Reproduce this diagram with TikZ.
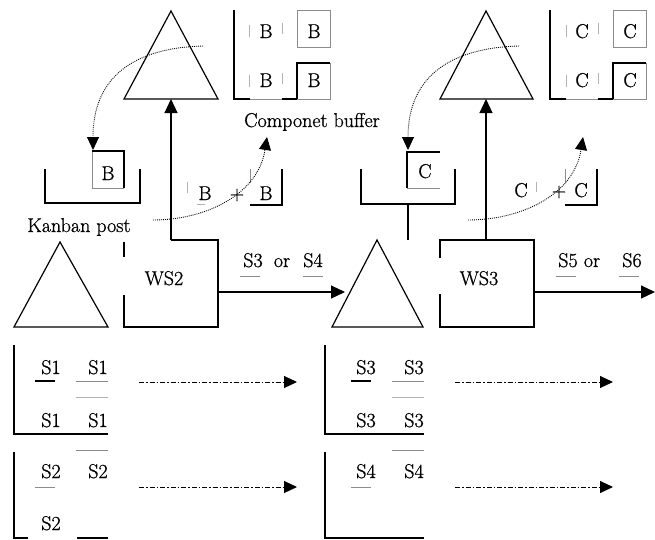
\documentclass[tikz,border=0pt]{standalone}
\usepackage{fontspec}
\newfontfamily\lblfont{Latin Modern Roman}[FakeBold=0.9]
\usetikzlibrary{arrows.meta}
\begin{document}
\begin{tikzpicture}[x=1pt,y=-1pt,
  line width=1.1pt,
  lbl/.style={font=\lblfont\fontsize{20}{24}\selectfont, inner sep=0pt, anchor=base},
  tri/.style={draw, line width=1.2pt, line join=miter},
  frame/.style={line width=1.1pt},
  faint/.style={draw=black!45, line width=0.8pt},
  tick/.style={draw=black!30, line width=0.8pt},
  flow/.style={-{Triangle[length=14pt,width=13pt]}, line width=1.1pt},
  kanban/.style={-{Triangle[length=13pt,width=12pt]}, line width=0.9pt,
    dash pattern=on 0.9pt off 1.1pt},
  info/.style={-{Triangle[length=13pt,width=12pt]}, line width=1pt,
    dash pattern=on 5pt off 2pt on 1.5pt off 2pt},
]
\useasboundingbox (0,0) rectangle (655,539);

% ---------- stock triangles ----------
\coordinate (bufB-top) at (171,11);  \coordinate (bufB-l) at (124,99);  \coordinate (bufB-r) at (218,99);
\coordinate (bufB-in) at (171,99);
\coordinate (bufC-top) at (486,11);  \coordinate (bufC-l) at (440,99);  \coordinate (bufC-r) at (533,99);
\coordinate (bufC-in) at (486,99);
\coordinate (st1-top) at (60,242);   \coordinate (st1-l) at (14,327);   \coordinate (st1-r) at (108,327);
\coordinate (st2-top) at (377,240);  \coordinate (st2-l) at (332,327);  \coordinate (st2-r) at (423,327);
\coordinate (st2-in) at (345,292);
\foreach \t in {bufB,bufC,st1,st2}
  \draw[tri] (\t-top) -- (\t-r) -- (\t-l) -- cycle;

% ---------- work stations ----------
\draw[frame] (124,242) -- (124,257);
\draw[frame] (124,295) -- (124,327) -- (218,327) -- (218,240) -- (171,240);
\node[lbl] (ws2) at (164,285) {WS2};
\coordinate (ws2-top) at (171,240);
\coordinate (ws2-out) at (218,292);

\draw[frame] (440,258) -- (440,240) -- (534,240) -- (534,327) -- (440,327) -- (440,294);
\node[lbl] (ws3) at (479,285) {WS3};
\coordinate (ws3-top) at (486,240);
\coordinate (ws3-out) at (534,292);
\coordinate (out) at (655,292);

\draw[flow] (ws2-top) -- (bufB-in);
\draw[flow] (ws3-top) -- (bufC-in);
\draw[flow] (ws2-out) -- (st2-in);
\draw[flow] (ws3-out) -- (out);

% ---------- output labels ----------
\node[lbl] (s3o) at (253,267) {S3};
\node[lbl] (or1) at (282,267) {or};
\node[lbl] (s4o) at (313,267) {S4};
\draw[faint] (240,276) -- (260,276);
\draw[faint] (303,276) -- (323,276);
\node[lbl] (s5o) at (568,267) {S5};
\node[lbl] (or2) at (592,267) {or};
\node[lbl] (s6o) at (632,267) {S6};
\draw[faint] (556,276) -- (576,276);
\draw[faint] (619,276) -- (639,276);

% ---------- component buffers (top right of each triangle) ----------
\draw[frame] (234,10) -- (234,99) -- (250,99);
\draw[faint] (250,99) -- (282,99);
\draw[frame] (282,99) -- (297,99);
\draw[faint] (297,10) rectangle (330,47);
\draw[frame] (297,99) -- (297,63) -- (330,63);
\draw[faint] (330,63) -- (330,99) -- (297,99);
\foreach \y in {25,75} {
  \draw[tick] (249,\y) -- (249,\y+12);
  \draw[tick] (282,\y-2) -- (282,\y+9);
}
\node[lbl] (cbB1) at (266,38) {B};
\node[lbl] (cbB2) at (314,38) {B};
\node[lbl] (cbB3) at (266,87) {B};
\node[lbl] (cbB4) at (314,87) {B};

\draw[frame] (550,10) -- (550,99) -- (566,99);
\draw[faint] (566,99) -- (598,99);
\draw[frame] (598,99) -- (613,99);
\draw[faint] (613,10) rectangle (646,47);
\draw[frame] (613,99) -- (613,63) -- (646,63);
\draw[faint] (646,63) -- (646,99) -- (613,99);
\foreach \y in {25,75} {
  \draw[tick] (566,\y) -- (566,\y+12);
  \draw[tick] (598,\y-2) -- (598,\y+9);
}
\node[lbl] (cbC1) at (582,38) {C};
\node[lbl] (cbC2) at (630,38) {C};
\node[lbl] (cbC3) at (582,87) {C};
\node[lbl] (cbC4) at (630,87) {C};

\node[lbl] (cbuf) at (312,127) {Componet buffer};

% ---------- kanban posts ----------
\draw[frame] (45,169) -- (45,203) -- (140,203) -- (140,169);
\draw[faint] (92,188) -- (92,151);
\draw[frame] (92,151) -- (124,151) -- (124,188);
\draw[faint] (92,188) -- (124,188);
\node[lbl] (kpB) at (108,180) {B};
\coordinate (kpB-card) at (93,150);
\node[lbl] (kpost) at (79,232) {Kanban post};

\draw[frame] (361,169) -- (361,204) -- (455,204) -- (455,169);
\draw[frame] (408,204) -- (408,240);
\draw[frame] (440,152) -- (407,152) -- (407,188);
\draw[faint] (407,188) -- (440,188);
\node[lbl] (kpC) at (425,178) {C};
\coordinate (kpC-card) at (408,150);

% ---------- withdrawn cards ----------
\draw[tick] (187,182) -- (187,193);
\draw[tick] (197,204) -- (205,204);
\node[lbl] (wB1) at (205,200) {B};
\node[lbl] (plusB) at (237,200) {+};
\draw[faint] (250,169) -- (250,183);
\draw[frame] (250,205) -- (282,205) -- (282,169);
\node[lbl] (wB2) at (266,200) {B};

\draw[tick] (536,182) -- (536,192);
\node[lbl] (wC1) at (521,197) {C};
\node[lbl] (plusC) at (559,197) {+};
\draw[faint] (565,169) -- (565,183);
\draw[frame] (565,205) -- (597,205) -- (597,169);
\node[lbl] (wC2) at (581,197) {C};

% ---------- kanban flows ----------
\coordinate (bufB-card) at (203,46);
\coordinate (bufC-card) at (519,46);
\coordinate (ws2-card) at (153,220);
\coordinate (ws3-card) at (468,220);
\coordinate (cbB-card) at (267,137);
\coordinate (cbC-card) at (583,137);
\draw[kanban] (bufB-card) .. controls (130,48) and (93,80) .. (kpB-card);
\draw[kanban] (bufC-card) .. controls (446,48) and (408,80) .. (kpC-card);
\draw[kanban] (ws2-card) .. controls (205,220) and (258,195) .. (cbB-card);
\draw[kanban] (ws3-card) .. controls (521,220) and (574,195) .. (cbC-card);

% ---------- sequence boards ----------
\draw[frame] (14,345) -- (14,434) -- (108,434);
\node[lbl] (s1a) at (51,374) {S1};
\node[lbl] (s1b) at (98,374) {S1};
\node[lbl] (s1c) at (51,427) {S1};
\node[lbl] (s1d) at (98,427) {S1};
\draw[frame] (35,381) -- (55,381);
\draw[faint] (76,381) -- (108,381);
\draw[tick] (76,397) -- (108,397);

\draw[frame] (14,452) -- (14,538) -- (28,538);
\draw[frame] (77,538) -- (108,538);
\node[lbl] (s2a) at (51,478) {S2};
\node[lbl] (s2b) at (98,478) {S2};
\node[lbl] (s2c) at (51,530) {S2};
\draw[faint] (35,487) -- (55,487);
\draw[faint] (76,450) -- (108,450);

\draw[frame] (325,345) -- (325,434) -- (424,434);
\node[lbl] (s3a) at (366,374) {S3};
\node[lbl] (s3b) at (414,374) {S3};
\node[lbl] (s3c) at (366,427) {S3};
\node[lbl] (s3d) at (414,427) {S3};
\draw[frame] (351,381) -- (371,381);
\draw[faint] (392,381) -- (424,381);
\draw[tick] (392,397) -- (424,397);

\draw[frame] (325,452) -- (325,538) -- (424,538);
\node[lbl] (s4a) at (366,478) {S4};
\node[lbl] (s4b) at (414,478) {S4};
\draw[faint] (351,487) -- (371,487);
\draw[faint] (392,450) -- (424,450);

\coordinate (seq1-a) at (139,382); \coordinate (seq1-b) at (297,382);
\coordinate (seq2-a) at (139,487); \coordinate (seq2-b) at (297,487);
\coordinate (seq3-a) at (455,382); \coordinate (seq3-b) at (613,382);
\coordinate (seq4-a) at (455,487); \coordinate (seq4-b) at (613,487);
\foreach \i in {1,2,3,4}
  \draw[info] (seq\i-a) -- (seq\i-b);
\end{tikzpicture}
\end{document}
